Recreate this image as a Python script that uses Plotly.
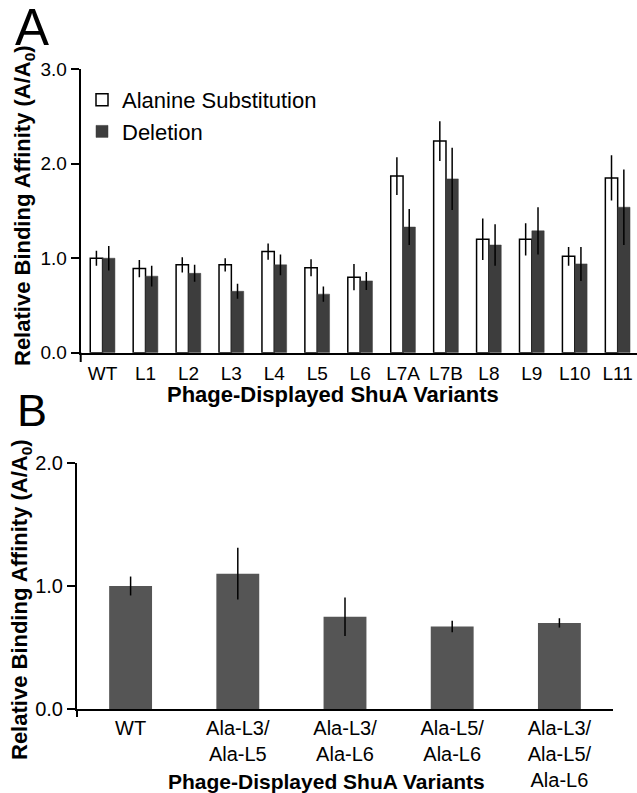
import plotly.graph_objects as go

# ---------------- data ----------------
variants_a = ["WT", "L1", "L2", "L3", "L4", "L5", "L6", "L7A", "L7B", "L8", "L9", "L10", "L11"]
alanine = [1.00, 0.89, 0.93, 0.93, 1.07, 0.90, 0.80, 1.87, 2.24, 1.20, 1.20, 1.02, 1.85]
alanine_err = [0.08, 0.09, 0.08, 0.07, 0.085, 0.09, 0.14, 0.20, 0.21, 0.22, 0.17, 0.10, 0.24]
deletion = [1.00, 0.81, 0.84, 0.65, 0.93, 0.62, 0.76, 1.33, 1.84, 1.14, 1.29, 0.94, 1.54]
deletion_err = [0.13, 0.11, 0.09, 0.08, 0.11, 0.08, 0.095, 0.19, 0.33, 0.22, 0.25, 0.18, 0.40]

variants_b = ["WT", "Ala-L3/<br>Ala-L5", "Ala-L3/<br>Ala-L6", "Ala-L5/<br>Ala-L6", "Ala-L3/<br>Ala-L5/<br>Ala-L6"]
combo = [1.00, 1.10, 0.75, 0.67, 0.70]
combo_err = [0.077, 0.21, 0.157, 0.047, 0.038]

ticks_a = [0, 1, 2, 3]
ticks_b = [0, 1, 2]

# ---------------- layout helpers ----------------
W, H = 637, 793
FONT = "Liberation Sans, Arial, Helvetica, sans-serif"


def px(x):
    return x / W


def py(y):
    return 1 - y / H


fig = go.Figure()

fig.add_trace(go.Bar(
    x=variants_a, y=alanine, name="Alanine Substitution",
    marker=dict(color="white", line=dict(color="black", width=1.5)),
    error_y=dict(type="data", array=alanine_err, color="black", thickness=1.5, width=0),
    xaxis="x", yaxis="y",
))
fig.add_trace(go.Bar(
    x=variants_a, y=deletion, name="Deletion",
    marker=dict(color="#3d3d3d", line=dict(color="#3d3d3d", width=0.5)),
    error_y=dict(type="data", array=deletion_err, color="black", thickness=1.5, width=0),
    xaxis="x", yaxis="y",
))
fig.add_trace(go.Bar(
    x=variants_b, y=combo, name="Combination", showlegend=False,
    marker=dict(color="#555555", line=dict(width=0)),
    error_y=dict(type="data", array=combo_err, color="black", thickness=1.5, width=0),
    width=0.40,
    xaxis="x2", yaxis="y2",
))

axis_common = dict(showgrid=False, zeroline=False, showline=True, linecolor="black",
                   linewidth=2, color="black", automargin=False)

fig.update_layout(
    width=W, height=H,
    margin=dict(l=0, r=0, t=0, b=0, autoexpand=False),
    paper_bgcolor="white", plot_bgcolor="white",
    font=dict(family=FONT, color="black"),
    barmode="group", bargap=0.425, bargroupgap=0,
    xaxis=dict(domain=[px(80.7), 1.0], anchor="y", range=[-0.51, 12.45],
               tickfont=dict(size=19), ticks="", ticklabelstandoff=2, **axis_common),
    yaxis=dict(domain=[py(352.7), py(69.3)], anchor="x", range=[0, 3],
               tickvals=ticks_a, tickformat=".1f", tickfont=dict(size=19),
               ticks="outside", ticklen=8, tickwidth=2, tickcolor="black", **axis_common),
    xaxis2=dict(domain=[px(77), px(613)], anchor="y2", range=[-0.5, 4.5],
                tickfont=dict(size=20), ticks="", ticklabelstandoff=0, **axis_common),
    yaxis2=dict(domain=[py(709), py(463)], anchor="x2", range=[0, 2],
                tickvals=ticks_b, tickformat=".1f", tickfont=dict(size=20),
                ticks="outside", ticklen=8, tickwidth=2, tickcolor="black", **axis_common),
    legend=dict(x=px(82), y=py(79), xanchor="left", yanchor="top",
                font=dict(size=22), bgcolor="rgba(0,0,0,0)", traceorder="normal"),
    showlegend=True,
)

ann = [
    dict(text="A", x=px(13), y=py(28), xanchor="left", yanchor="middle",
         font=dict(size=51)),
    dict(text="B", x=px(15), y=py(410), xanchor="left", yanchor="middle",
         font=dict(size=45)),
    dict(text="<b>Relative Binding Affinity (A/A<sub>0</sub>)</b>", x=px(24), y=py(206),
         textangle=-90, xanchor="center", yanchor="middle", font=dict(size=22)),
    dict(text="<b>Relative Binding Affinity (A/A<sub>0</sub>)</b>", x=px(21), y=py(600),
         textangle=-90, xanchor="center", yanchor="middle", font=dict(size=22)),
    dict(text="<b>Phage-Displayed ShuA Variants</b>", x=px(333), y=py(394),
         xanchor="center", yanchor="middle", font=dict(size=22)),
    dict(text="<b>Phage-Displayed ShuA Variants</b>", x=px(326), y=py(781),
         xanchor="center", yanchor="middle", font=dict(size=21)),
]
for a in ann:
    a.update(xref="paper", yref="paper", showarrow=False)
fig.update_layout(annotations=ann)

# small downward extension of the y axis lines below the baseline
fig.update_layout(shapes=[
    dict(type="line", xref="paper", yref="paper", x0=px(80.7), x1=px(80.7),
         y0=py(352.7), y1=py(362), line=dict(color="black", width=2)),
    dict(type="line", xref="paper", yref="paper", x0=px(77), x1=px(77),
         y0=py(709), y1=py(717), line=dict(color="black", width=2)),
])

fig.write_html(
    "out.html",
    config={"displayModeBar": False, "staticPlot": True},
    post_script="document.body.style.margin='0';document.body.style.padding='0';"
                "document.documentElement.style.overflow='hidden';",
)
